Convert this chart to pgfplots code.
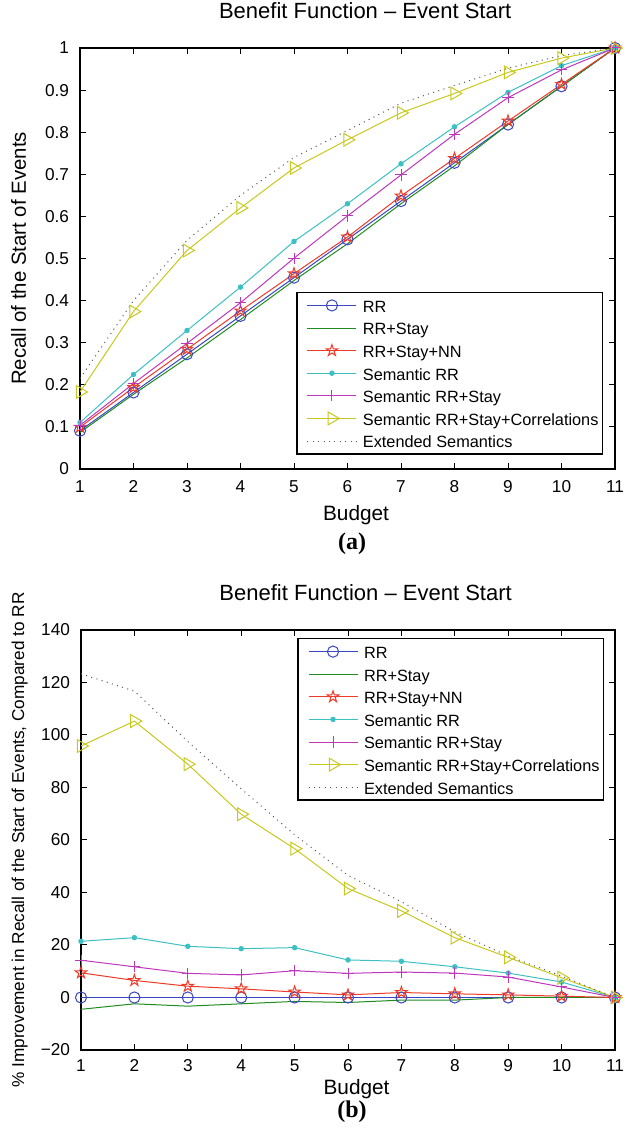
\documentclass[border=0pt]{standalone}
\usepackage{fontspec}
\setmainfont{Liberation Sans}
\newfontfamily\serifface{Liberation Serif}
\usepackage{pgfplots}
\pgfplotsset{compat=1.18}

\definecolor{cRR}{HTML}{3A46C4}
\definecolor{cSt}{HTML}{1E8C1E}
\definecolor{cNN}{HTML}{EE3A26}
\definecolor{cSem}{HTML}{3CC0C4}
\definecolor{cSemS}{HTML}{BE38BE}
\definecolor{cCor}{HTML}{C8C81E}
\definecolor{cExt}{HTML}{555555}

% open five-pointed star, like matlab's 'p' marker
\pgfdeclareplotmark{pentagram}{%
  \pgfpathmoveto{\pgfpointpolar{90}{\pgfplotmarksize}}%
  \pgfpathlineto{\pgfpointpolar{126}{0.382\pgfplotmarksize}}%
  \pgfpathlineto{\pgfpointpolar{162}{\pgfplotmarksize}}%
  \pgfpathlineto{\pgfpointpolar{198}{0.382\pgfplotmarksize}}%
  \pgfpathlineto{\pgfpointpolar{234}{\pgfplotmarksize}}%
  \pgfpathlineto{\pgfpointpolar{270}{0.382\pgfplotmarksize}}%
  \pgfpathlineto{\pgfpointpolar{306}{\pgfplotmarksize}}%
  \pgfpathlineto{\pgfpointpolar{342}{0.382\pgfplotmarksize}}%
  \pgfpathlineto{\pgfpointpolar{18}{\pgfplotmarksize}}%
  \pgfpathlineto{\pgfpointpolar{54}{0.382\pgfplotmarksize}}%
  \pgfpathclose
  \pgfusepathqstroke}

\newcommand{\lstrut}{\rule[-2.6pt]{0pt}{11pt}}

\pgfplotsset{
  benefit/.style={
    scale only axis,width=267.5pt,height=210.5pt,
    xmin=1,xmax=11,xtick={1,...,11},
    tick pos=both,tick align=inside,major tick length=3pt,
    axis line style={line width=0.8pt},
    every tick/.style={black,line width=0.5pt},
    /pgf/number format/assume math mode=true,
    ticklabel style={font=\fontsize{8.6}{10}\selectfont},
    yticklabel style={xshift=-2pt},
    title style={font=\fontsize{11}{13}\selectfont,at={(axis description cs:0.533,1)},anchor=base,yshift=8.5pt},
    xlabel style={font=\fontsize{10.4}{12}\selectfont,at={(axis description cs:0.516,0)},anchor=base},
    legend cell align=left,
    legend style={draw=black,line width=0.75pt,fill=white,
      font=\fontsize{8.15}{9}\selectfont,
      inner xsep=2pt,inner ysep=1.5pt,row sep=1.4pt,column sep=3pt,
      nodes={inner sep=0pt}},
    legend image code/.code={
      \path (0pt,0pt);
      \draw[mark repeat=2,mark phase=2,##1] plot coordinates {(3pt,0pt) (15.25pt,0pt) (27.5pt,0pt)};},
  },
  sRR/.style={color=cRR,line width=0.5pt,mark=o,mark size=2.8pt,mark options={solid}},
  sSt/.style={color=cSt,line width=0.5pt,mark=none},
  sNN/.style={color=cNN,line width=0.5pt,mark=pentagram,mark size=3pt,mark options={solid}},
  sSem/.style={color=cSem,line width=0.5pt,mark=*,mark size=1.1pt,mark options={solid,fill=cSem}},
  sSemS/.style={color=cSemS,line width=0.5pt,mark=+,mark size=2.8pt,mark options={solid}},
  sCor/.style={color=cCor,line width=0.5pt,mark=triangle,mark size=3.7pt,mark options={solid,rotate=-90}},
  sExt/.style={color=cExt,line width=0.5pt,dash pattern=on 0.5pt off 2.2pt,mark=none},
}

\begin{document}
\begin{tikzpicture}
\path[use as bounding box] (0,0) rectangle (312.5pt,570pt);

% ---------- (a) recall ----------
\begin{axis}[benefit,
  at={(40pt,335.5pt)},anchor=south west,
  ymin=0,ymax=1,
  ytick={0,0.1,0.2,0.3,0.4,0.5,0.6,0.7,0.8,0.9,1},
  yticklabels={0,0.1,0.2,0.3,0.4,0.5,0.6,0.7,0.8,0.9,1},
  xticklabel style={yshift=-2.1pt},
  title={Benefit Function -- Event Start},
  xlabel={Budget},
  xlabel style={yshift=-26pt},
  ylabel={Recall of the Start of Events},
  ylabel style={font=\fontsize{10.2}{12}\selectfont,at={(axis description cs:-0.101,0.5)},anchor=base},
  legend style={at={(0.978,0.034)},anchor=south east}]
\addplot[sRR] coordinates {(1,0.0909) (2,0.1818) (3,0.2727) (4,0.3636) (5,0.4545) (6,0.5455) (7,0.6364) (8,0.7273) (9,0.8182) (10,0.9091) (11,1.0)};
\addlegendentry{\lstrut RR}
\addplot[sSt] coordinates {(1,0.0868) (2,0.1775) (3,0.2636) (4,0.3549) (5,0.4477) (6,0.5351) (7,0.6300) (8,0.7200) (9,0.8182) (10,0.9091) (11,1.0)};
\addlegendentry{\lstrut RR+Stay}
\addplot[sNN] coordinates {(1,0.0994) (2,0.1936) (3,0.2844) (4,0.3756) (5,0.4640) (6,0.5509) (7,0.6485) (8,0.7375) (9,0.8264) (10,0.9136) (11,1.0)};
\addlegendentry{\lstrut RR+Stay+NN}
\addplot[sSem] coordinates {(1,0.1104) (2,0.2245) (3,0.3290) (4,0.4320) (5,0.5405) (6,0.6300) (7,0.7250) (8,0.8128) (9,0.8945) (10,0.9580) (11,1.0)};
\addlegendentry{\lstrut Semantic RR}
\addplot[sSemS] coordinates {(1,0.1038) (2,0.2031) (3,0.2985) (4,0.3949) (5,0.5008) (6,0.6010) (7,0.6985) (8,0.7950) (9,0.8820) (10,0.9480) (11,1.0)};
\addlegendentry{\lstrut Semantic RR+Stay}
\addplot[sCor] coordinates {(1,0.183) (2,0.374) (3,0.519) (4,0.620) (5,0.715) (6,0.782) (7,0.846) (8,0.892) (9,0.942) (10,0.976) (11,1.0)};
\addlegendentry{\lstrut Semantic RR+Stay+Correlations}
\addplot[sExt] coordinates {(1,0.215) (2,0.400) (3,0.543) (4,0.650) (5,0.740) (6,0.804) (7,0.869) (8,0.911) (9,0.952) (10,0.982) (11,1.0)};
\addlegendentry{\lstrut Extended Semantics}
\end{axis}

% ---------- (b) improvement over RR ----------
\begin{axis}[benefit,
  at={(40.5pt,45pt)},anchor=south west,
  width=267pt,height=210pt,
  ymin=-20,ymax=140,
  ytick={-20,0,20,40,60,80,100,120,140},
  yticklabels={−20,0,20,40,60,80,100,120,140},
  xticklabel style={yshift=-1.1pt},
  title={Benefit Function -- Event Start},
  xlabel={Budget},
  xlabel style={yshift=-22pt},
  ylabel={\% Improvement in Recall of the Start of Events, Compared to RR},
  ylabel style={font=\fontsize{8.6}{10}\selectfont,at={(axis description cs:-0.1067,0.5)},anchor=base},
  legend style={at={(0.98,0.981)},anchor=north east}]
\addplot[sRR] coordinates {(1,0) (2,0) (3,0) (4,0) (5,0) (6,0) (7,0) (8,0) (9,0) (10,0) (11,0)};
\addlegendentry{\lstrut RR}
\addplot[sSt] coordinates {(1,-4.5) (2,-2.4) (3,-3.3) (4,-2.4) (5,-1.5) (6,-1.9) (7,-1.0) (8,-1.0) (9,0) (10,0) (11,0)};
\addlegendentry{\lstrut RR+Stay}
\addplot[sNN] coordinates {(1,9.4) (2,6.5) (3,4.3) (4,3.3) (5,2.1) (6,1.0) (7,1.9) (8,1.4) (9,1.0) (10,0.5) (11,0)};
\addlegendentry{\lstrut RR+Stay+NN}
\addplot[sSem] coordinates {(1,21.4) (2,22.8) (3,19.5) (4,18.6) (5,19.0) (6,14.3) (7,13.8) (8,11.7) (9,9.3) (10,5.9) (11,0)};
\addlegendentry{\lstrut Semantic RR}
\addplot[sSemS] coordinates {(1,14.2) (2,11.7) (3,9.2) (4,8.6) (5,10.2) (6,9.2) (7,9.7) (8,9.3) (9,7.8) (10,4.0) (11,0)};
\addlegendentry{\lstrut Semantic RR+Stay}
\addplot[sCor] coordinates {(1,95.8) (2,105.3) (3,88.9) (4,69.8) (5,56.7) (6,41.5) (7,33.0) (8,22.8) (9,15.3) (10,7.5) (11,0)};
\addlegendentry{\lstrut Semantic RR+Stay+Correlations}
\addplot[sExt] coordinates {(1,123.3) (2,116.7) (3,97.5) (4,79.5) (5,62.0) (6,46.5) (7,36.5) (8,25.0) (9,15.8) (10,8.2) (11,0)};
\addlegendentry{\lstrut Extended Semantics}
\end{axis}

\node[font=\serifface\bfseries\fontsize{12}{14}\selectfont] at (176pt,298pt) {(a)};
\node[font=\serifface\bfseries\fontsize{12}{14}\selectfont] at (176pt,14pt) {(b)};
\end{tikzpicture}
\end{document}
